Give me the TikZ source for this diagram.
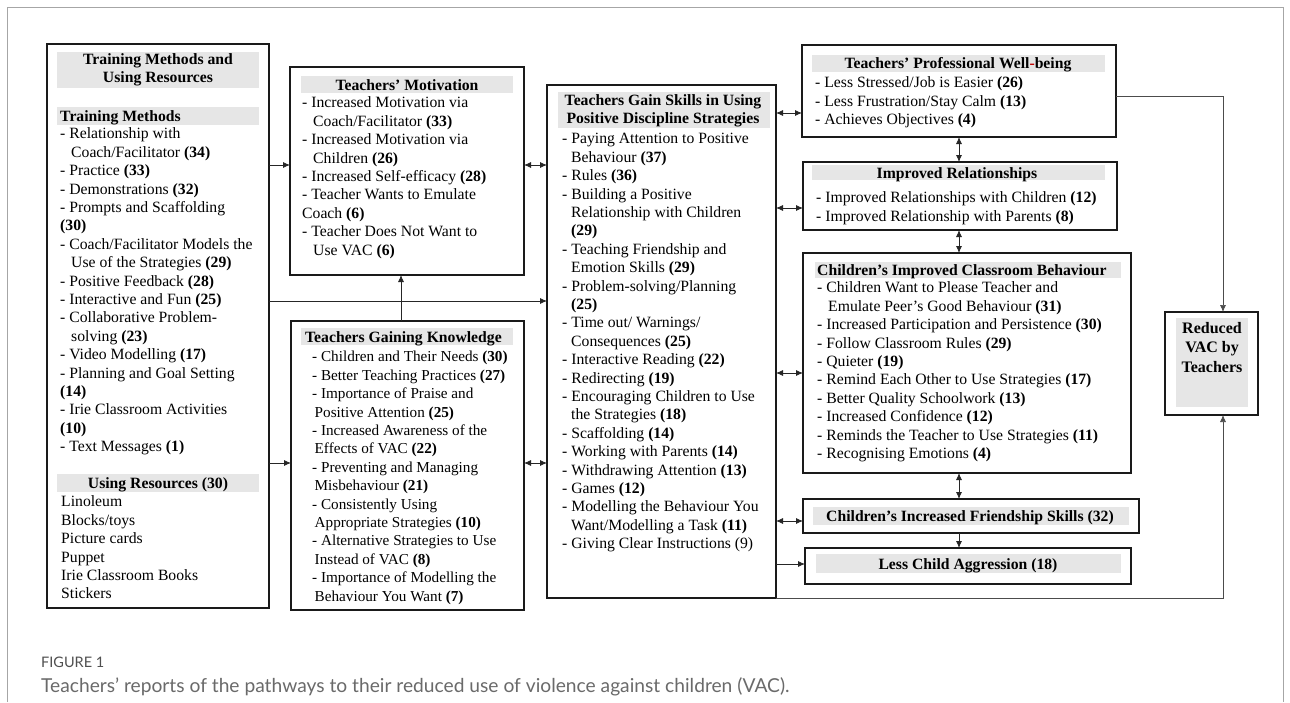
\documentclass[tikz,border=0pt]{standalone}
\usepackage{fontspec}
\setmainfont{Liberation Serif}
\newfontfamily\capfont{Lato}
\usetikzlibrary{arrows.meta}
\definecolor{hdr}{HTML}{E6E6E6}
\definecolor{boxline}{HTML}{1A1A1A}
\definecolor{capdark}{HTML}{505050}
\definecolor{caplight}{HTML}{6A6A6A}
\newcommand{\nb}[1]{\textbf{#1}}
\newcommand{\inda}{\hspace*{11pt}}
\newcommand{\indb}{\hspace*{9pt}}
\newcommand{\indc}{\hspace*{2.5pt}}
\begin{document}
\begin{tikzpicture}[x=1pt,y=-1pt,
 box/.style={draw=boxline,line width=1.3pt,anchor=north west,inner sep=0pt,outer sep=0pt},
 band/.style={fill=hdr},
 list/.style={anchor=north west,inner sep=0pt,align=left,font=\fontsize{15.7}{18.4}\selectfont},
 klist/.style={anchor=north west,inner sep=0pt,align=left,font=\fontsize{15.2}{18.4}\selectfont},
 head/.style={inner sep=0pt,align=center,font=\bfseries\fontsize{15.7}{18.4}\selectfont},
 shead/.style={inner sep=0pt,text height=10.5pt,text depth=0pt,font=\bfseries\fontsize{15.7}{18.4}\selectfont},
 headl/.style={shead,anchor=west},
 conn/.style={draw=black!85,line width=0.8pt},
 arr/.style={conn,-{Latex[length=7pt,width=6pt]}},
 darr/.style={conn,{Latex[length=7pt,width=6pt]}-{Latex[length=7pt,width=6pt]}},
]
\useasboundingbox (0,0) rectangle (1290,702);
\fill[white] (0,0) rectangle (1290,702);
\draw[gray!70,line width=0.8pt] (7,702) -- (7,7) -- (1283,7) -- (1283,702);

% level coordinates
\coordinate (Y96) at (0,96);
\coordinate (Y113) at (0,113);
\coordinate (Y165) at (0,165);
\coordinate (Y208) at (0,208);
\coordinate (Y301) at (0,301);
\coordinate (Y373) at (0,373);
\coordinate (Y463) at (0,463);
\coordinate (Y521) at (0,521);
\coordinate (Y564) at (0,564);
\coordinate (X401) at (401,0);
\coordinate (X959) at (959,0);
\coordinate (X1223) at (1223,0);

% Training methods
\node[box,minimum width=222pt,minimum height=564pt] (tm) at (47,44) {};
\fill[band] (57,52) rectangle (259,88);
\node[head] (tmh) at (158,70) {Training Methods and\\Using Resources};
\fill[band] (57,107) rectangle (259,125);
\node[headl] (tmh2) at (60,116) {Training Methods};
\node[list] (tml) at (60,125.8) {\strut- Relationship with\\
\inda Coach/Facilitator \nb{(34)}\\
- Practice \nb{(33)}\\
- Demonstrations \nb{(32)}\\
- Prompts and Scaffolding\\
\nb{(30)}\\
- Coach/Facilitator Models the\\
\inda Use of the Strategies \nb{(29)}\\
- Positive Feedback \nb{(28)}\\
- Interactive and Fun \nb{(25)}\\
- Collaborative Problem-\\
\inda solving \nb{(23)}\\
- Video Modelling \nb{(17)}\\
- Planning and Goal Setting\\
\nb{(14)}\\
- Irie Classroom Activities\\
\nb{(10)}\\
- Text Messages \nb{(1)}};
\fill[band] (57,474) rectangle (259,492);
\node[shead] (urh) at (158,483) {Using Resources (30)};
\node[list] (url) at (61,493.8) {\strut Linoleum\\Blocks/toys\\Picture cards\\Puppet\\Irie Classroom Books\\Stickers};

% Motivation
\node[box,minimum width=234pt,minimum height=208pt] (mo) at (290,67) {};
\fill[band] (301,76) rectangle (513,93);
\node[shead] (moh) at (407,85) {Teachers’ Motivation};
\node[list] (mol) at (302,94.8) {\strut- Increased Motivation via\\
\inda Coach/Facilitator \nb{(33)}\\
- Increased Motivation via\\
\inda Children \nb{(26)}\\
- Increased Self-efficacy \nb{(28)}\\
- Teacher Wants to Emulate\\
Coach \nb{(6)}\\
- Teacher Does Not Want to\\
\inda Use VAC \nb{(6)}};

% Knowledge
\node[box,minimum width=233pt,minimum height=289pt] (kn) at (291,321) {};
\fill[band] (301,328) rectangle (513,345);
\node[headl] (knh) at (305,337) {Teachers Gaining Knowledge};
\node[klist] (knl) at (312,348.8) {\strut- Children and Their Needs \nb{(30)}\\
- Better Teaching Practices \nb{(27)}\\
- Importance of Praise and\\
\indc Positive Attention \nb{(25)}\\
- Increased Awareness of the\\
\indc Effects of VAC \nb{(22)}\\
- Preventing and Managing\\
\indc Misbehaviour \nb{(21)}\\
- Consistently Using\\
\indc Appropriate Strategies \nb{(10)}\\
- Alternative Strategies to Use\\
\indc Instead of VAC \nb{(8)}\\
- Importance of Modelling the\\
\indc Behaviour You Want \nb{(7)}};

% Skills
\node[box,minimum width=229pt,minimum height=513pt] (sk) at (547,85) {};
\fill[band] (558,92) rectangle (770,128);
\node[head] (skh) at (663,111) {Teachers Gain Skills in Using\\Positive Discipline Strategies};
\node[list] (skl) at (562,130.8) {\strut- Paying Attention to Positive\\
\indb Behaviour \nb{(37)}\\
- Rules \nb{(36)}\\
- Building a Positive\\
\indb Relationship with Children\\
\indb \nb{(29)}\\
- Teaching Friendship and\\
\indb Emotion Skills \nb{(29)}\\
- Problem-solving/Planning\\
\indb \nb{(25)}\\
- Time out/ Warnings/\\
\indb Consequences \nb{(25)}\\
- Interactive Reading \nb{(22)}\\
- Redirecting \nb{(19)}\\
- Encouraging Children to Use\\
\indb the Strategies \nb{(18)}\\
- Scaffolding \nb{(14)}\\
- Working with Parents \nb{(14)}\\
- Withdrawing Attention \nb{(13)}\\
- Games \nb{(12)}\\
- Modelling the Behaviour You\\
\indb Want/Modelling a Task \nb{(11)}\\
- Giving Clear Instructions (9)};

% Well-being
\node[box,minimum width=314pt,minimum height=92pt] (wb) at (802,45) {};
\fill[band] (812,55) rectangle (1105,72);
\node[shead] (wbh) at (958,63) {Teachers’ Professional Well\textcolor{red!75!black}{-}being};
\node[list] (wbl) at (815,74.8) {\strut- Less Stressed/Job is Easier \nb{(26)}\\
- Less Frustration/Stay Calm \nb{(13)}\\
- Achieves Objectives \nb{(4)}};

% Relationships
\node[box,minimum width=314pt,minimum height=68pt] (rel) at (803,162) {};
\fill[band] (812,165) rectangle (1105,180);
\node[shead] (relh) at (957,173) {Improved Relationships};
\node[list] (rell) at (816,189.8) {\strut- Improved Relationships with Children \nb{(12)}\\
- Improved Relationship with Parents \nb{(8)}};

% Classroom behaviour
\node[box,minimum width=328pt,minimum height=220pt] (cb) at (803,253) {};
\fill[band] (815,262) rectangle (1121,278);
\node[headl] (cbh) at (817,270) {Children’s Improved Classroom Behaviour};
\node[list] (cbl) at (817,279.8) {\strut- Children Want to Please Teacher and\\
\inda Emulate Peer’s Good Behaviour \nb{(31)}\\
- Increased Participation and Persistence \nb{(30)}\\
- Follow Classroom Rules \nb{(29)}\\
- Quieter \nb{(19)}\\
- Remind Each Other to Use Strategies \nb{(17)}\\
- Better Quality Schoolwork \nb{(13)}\\
- Increased Confidence \nb{(12)}\\
- Reminds the Teacher to Use Strategies \nb{(11)}\\
- Recognising Emotions \nb{(4)}};

% Friendship
\node[box,minimum width=336pt,minimum height=34pt] (fr) at (803,499) {};
\fill[band] (813,507) rectangle (1129,525);
\node[shead] (frh) at (970,516) {Children’s Increased Friendship Skills (32)};

% Aggression
\node[box,minimum width=326pt,minimum height=36pt] (ag) at (805,548) {};
\fill[band] (816,554) rectangle (1121,573);
\node[shead] (agh) at (968,564) {Less Child Aggression (18)};

% Reduced VAC
\node[box,minimum width=93pt,minimum height=103pt] (rv) at (1165,312) {};
\fill[band] (1176,318) rectangle (1248,407);
\node[inner sep=0pt,align=center,font=\bfseries\fontsize{16}{19.6}\selectfont] (rvh) at (1212,347.5) {Reduced\\VAC by\\Teachers};

% connectors
\draw[arr] (tm.east |- Y165) -- (mo.west |- Y165);
\draw[darr] (mo.east |- Y165) -- (sk.west |- Y165);
\draw[arr] (tm.east |- Y301) -- (sk.west |- Y301);
\draw[arr] (kn.north -| X401) -- (mo.south -| X401);
\draw[arr] (tm.east |- Y463) -- (kn.west |- Y463);
\draw[darr] (kn.east |- Y463) -- (sk.west |- Y463);
\draw[darr] (sk.east |- Y113) -- (wb.west |- Y113);
\draw[darr] (sk.east |- Y208) -- (rel.west |- Y208);
\draw[darr] (sk.east |- Y373) -- (cb.west |- Y373);
\draw[darr] (sk.east |- Y521) -- (fr.west |- Y521);
\draw[arr] (sk.east |- Y564) -- (ag.west |- Y564);
\draw[darr] (wb.south -| X959) -- (rel.north -| X959);
\draw[darr] (rel.south -| X959) -- (cb.north -| X959);
\draw[darr] (cb.south -| X959) -- (fr.north -| X959);
\draw[arr] (fr.south -| X959) -- (ag.north -| X959);
\draw[arr,draw=black!70,line width=0.7pt] (wb.east |- Y96) -| (rv.north -| X1223);
\draw[arr,draw=black!70,line width=0.7pt] (sk.south east) -| (rv.south -| X1223);

% caption
\node[anchor=west,inner sep=0pt,font=\capfont\fontsize{14.5}{16}\selectfont,text=capdark] (fig) at (41,662) {FIGURE 1};
\node[anchor=west,inner sep=0pt,font=\capfont\fontsize{19.2}{22}\selectfont,text=caplight] (cap) at (41,687) {Teachers’ reports of the pathways to their reduced use of violence against children (VAC).};
\end{tikzpicture}
\end{document}
